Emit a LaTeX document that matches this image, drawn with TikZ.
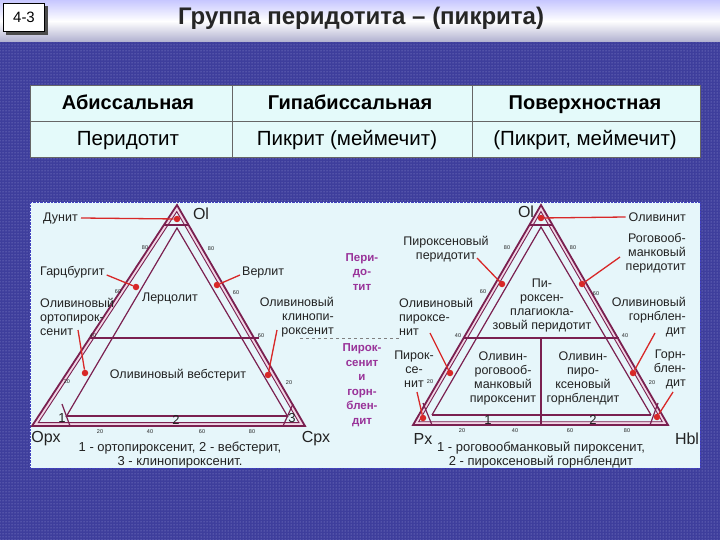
\documentclass[tikz,border=0pt]{standalone}
\usepackage{fontspec}
\setmainfont{Liberation Sans}
\usetikzlibrary{calc,patterns}
\definecolor{bg}{HTML}{3E3E9C}
\definecolor{dotc}{HTML}{9A9AD8}
\definecolor{cell}{HTML}{E4FAFA}
\definecolor{panel}{HTML}{E6F6FA}
\definecolor{tri}{HTML}{7A2050}
\definecolor{band}{HTML}{F2D6E6}
\definecolor{rd}{HTML}{D82828}
\definecolor{pur}{HTML}{993399}
\definecolor{txt}{HTML}{222222}
\tikzset{
 lab/.style={font=\fontsize{12.5}{14}\selectfont, text=txt, inner sep=0pt, align=center},
 labl/.style={lab, align=left, anchor=west},
 labr/.style={lab, align=right, anchor=east},
 tnum/.style={font=\fontsize{5.5}{6}\selectfont, text=txt, inner sep=0pt},
 vert/.style={font=\fontsize{16}{17}\selectfont, text=txt, inner sep=0pt},
 captext/.style={font=\fontsize{13}{13.5}\selectfont, text=txt, inner sep=0pt, align=center},
 tl/.style={tri, line width=1.2pt},
 ptr/.style={rd, line width=1.3pt},
 rdot/.style={circle, fill=rd, inner sep=0pt, minimum size=6.5pt},
 mid/.style={font=\bfseries\fontsize{11.5}{14.5}\selectfont, text=pur, inner sep=0pt, align=center},
 tcell/.style={font=\fontsize{20.5}{22}\selectfont, text=black, inner sep=0pt, anchor=base},
 thead/.style={font=\bfseries\fontsize{20}{22}\selectfont, text=black, inner sep=0pt, anchor=base},
}
\begin{document}
\begin{tikzpicture}[x=1pt,y=-1pt]
\useasboundingbox (0,0) rectangle (720,540);
\fill[bg] (0,0) rectangle (720,540);
\fill[pattern=dots, pattern color=dotc] (0,0) rectangle (720,540);
% header
\shade[top color=blue!22!white, bottom color=blue!25!gray!50!white, middle color=white] (0,0) rectangle (720,42);
\fill[black!70] (6,6) rectangle (48,35);
\node[draw=black, fill=white, minimum width=41pt, minimum height=28pt, inner sep=0pt, font=\fontsize{15}{16}\selectfont] (num) at (24,17.5) {4-3};
\node[font=\bfseries\fontsize{24}{26}\selectfont, text=black!85] (title) at (361,18) {Группа перидотита – (пикрита)};
% table
\fill[cell] (30,85) rectangle (700,157);
\draw[black!60, line width=0.6pt] (30,85) rectangle (700,157) (30,121) -- (700,121) (232,85) -- (232,157) (472,85) -- (472,157);
\node[thead] (h1) at (128,110) {Абиссальная};
\node[thead] (h2) at (350,110) {Гипабиссальная};
\node[thead] (h3) at (585,110) {Поверхностная};
\node[tcell] (r1) at (128,146) {Перидотит};
\node[tcell] (r2) at (347,146) {Пикрит (меймечит)};
\node[tcell] (r3) at (585,146) {(Пикрит, меймечит)};
% panel
\fill[panel] (30,202) rectangle (700,468);
\draw[blue!50!gray, densely dotted] (30,202) rectangle (700,468);
\begin{scope}
\clip (30,202) rectangle (700,468);
% ---------- left triangle
\coordinate (A) at (32,426); \coordinate (C) at (305,426); \coordinate (O) at (177,205);
\coordinate (cL) at (172,352);
\fill[band] (A) -- (C) -- (O) -- cycle;
\fill[panel] ($(cL)!0.955!(A)$) -- ($(cL)!0.955!(C)$) -- ($(cL)!0.955!(O)$) -- cycle;
\draw[tl, line width=1.8pt] (A) -- (C) -- (O) -- cycle;
\draw[tl, line width=0.9pt] ($(cL)!0.955!(A)$) -- ($(cL)!0.955!(C)$) -- ($(cL)!0.955!(O)$) -- cycle;
\draw[tl] (66,417) -- (177,228) -- (288,417);
\draw[tl] (164,225) -- (189,225);
\draw[tl] (90,338) -- (259,338);
\draw[tl] (67,416) -- (288,416);
\draw[tl] (62,404) -- (70,426);
\draw[tl] (293,404) -- (283,426);
\foreach \x/\t in {100/20,150/40,202/60,252/80}{\node[tnum] at (\x,432) {\t};}
\node[tnum] at (67,382) {20}; \node[tnum] at (93,336) {40}; \node[tnum] at (118,292) {60}; \node[tnum] at (145,248) {80};
\node[tnum] at (211,249) {80}; \node[tnum] at (236,293) {60}; \node[tnum] at (261,336) {60}; \node[tnum] at (289,383) {20};
\node[vert] (ol1) at (201,214) {Ol};
\node[vert] (opx) at (46,439) {Орх};
\node[vert] (cpx) at (316,439) {Срх};
\node[rdot] (d1) at (177,219) {}; \node[labl] (dunit) at (43,218) {Дунит};
\draw[ptr] (dunit.east) ++(3,0) -- (d1);
\node[rdot] (d2) at (136,287) {}; \node[labl] (garz) at (40,272) {Гарцбургит};
\draw[ptr] (garz.east) ++(2,3) -- (d2);
\node[rdot] (d3) at (217,285) {}; \node[labl] (verl) at (242,272) {Верлит};
\draw[ptr] (verl.west) ++(-2,3) -- (d3);
\node[lab] (lerz) at (170,298) {Лерцолит};
\node[labl] (oopx) at (40,317) {Оливиновый\\ортопирок-\\сенит};
\node[rdot] (d4) at (85,373) {}; \draw[ptr] (78,330) -- (d4);
\node[labr] (ocpx) at (334,317) {Оливиновый\\клинопи-\\роксенит};
\node[rdot] (d5) at (268,375) {}; \draw[ptr] (277,330) -- (d5);
\node[lab] (oweb) at (178,375) {Оливиновый вебстерит};
\node[lab, font=\fontsize{13}{13}\selectfont] (n1) at (62,418) {1};
\node[lab, font=\fontsize{13}{13}\selectfont] (n2) at (176,420) {2};
\node[lab, font=\fontsize{13}{13}\selectfont] (n3) at (292,418) {3};
\node[captext] (capL) at (180,455) {1 - ортопироксенит, 2 - вебстерит,\\3 - клинопироксенит.};
% ---------- middle
\node[mid] (perid) at (362,272) {Пери-\\до-\\тит};
\coordinate (ds) at (300,338); \coordinate (de) at (400,338);
\draw[gray, dashed, line width=1pt] (ds) -- (de);
\node[mid] (pyrh) at (362,385) {Пирок-\\сенит\\и\\горн-\\блен-\\дит};
% ---------- right triangle
\coordinate (P) at (413,425); \coordinate (H) at (668,425); \coordinate (O2) at (541,205);
\coordinate (cR) at (540,352);
\fill[band] (P) -- (H) -- (O2) -- cycle;
\fill[panel] ($(cR)!0.955!(P)$) -- ($(cR)!0.955!(H)$) -- ($(cR)!0.955!(O2)$) -- cycle;
\draw[tl, line width=1.8pt] (P) -- (H) -- (O2) -- cycle;
\draw[tl, line width=0.9pt] ($(cR)!0.955!(P)$) -- ($(cR)!0.955!(H)$) -- ($(cR)!0.955!(O2)$) -- cycle;
\draw[tl] (432,415) -- (541,227) -- (651,415);
\draw[tl] (529,225) -- (553,225);
\draw[tl] (463,338) -- (619,338);
\draw[tl] (541,338) -- (541,425);
\draw[tl] (432,415) -- (651,415);
\draw[tl] (423,403) -- (432,425);
\draw[tl] (658,403) -- (650,425);
\foreach \x/\t in {462/20,515/40,570/60,627/80}{\node[tnum] at (\x,431) {\t};}
\node[tnum] at (430,382) {20}; \node[tnum] at (458,336) {40}; \node[tnum] at (483,292) {60}; \node[tnum] at (507,248) {80};
\node[tnum] at (573,248) {80}; \node[tnum] at (596,294) {60}; \node[tnum] at (625,336) {40}; \node[tnum] at (652,383) {20};
\node[vert] (ol2) at (526,212) {Ol};
\node[vert] (px) at (423,439) {Px};
\node[vert] (hbl) at (687,439) {Hbl};
\node[rdot] (e1) at (541,218) {}; \node[labr] (olvn) at (686,217) {Оливинит};
\draw[ptr] (olvn.west) ++(-3,0) -- (e1);
\node[lab] (pxper) at (446,249) {Пироксеновый\\перидотит};
\node[rdot] (e2) at (502,284) {}; \draw[ptr] (477,258) -- (e2);
\node[labr] (hbper) at (686,253) {Роговооб-\\манковый\\перидотит};
\node[rdot] (e3) at (582,284) {}; \draw[ptr] (620,257) -- (e3);
\node[lab] (ppp) at (542,305) {Пи-\\роксен-\\плагиокла-\\зовый перидотит};
\node[labl] (olpx) at (399,317) {Оливиновый\\пироксе-\\нит};
\node[rdot] (e4) at (450,373) {}; \draw[ptr] (430,333) -- (e4);
\node[labr] (olhb) at (686,317) {Оливиновый\\горнблен-\\дит};
\node[rdot] (e5) at (633,373) {}; \draw[ptr] (655,333) -- (e5);
\node[lab] (pxt) at (414,369) {Пирок-\\се-\\нит};
\node[rdot] (e6) at (423,418) {}; \draw[ptr] (417,392) -- (e6);
\node[labr] (hbd) at (686,369) {Горн-\\блен-\\дит};
\node[rdot] (e7) at (657,417) {}; \draw[ptr] (673,392) -- (e7);
\node[lab] (ohp) at (503,378) {Оливин-\\роговооб-\\манковый\\пироксенит};
\node[lab] (oph) at (583,378) {Оливин-\\пиро-\\ксеновый\\горнблендит};
\node[lab, font=\fontsize{13}{13}\selectfont] (m1) at (488,420) {1};
\node[lab, font=\fontsize{13}{13}\selectfont] (m2) at (593,420) {2};
\node[captext] (capR) at (541,455) {1 - роговообманковый пироксенит,\\2 - пироксеновый горнблендит};
\end{scope}
\end{tikzpicture}
\end{document}
